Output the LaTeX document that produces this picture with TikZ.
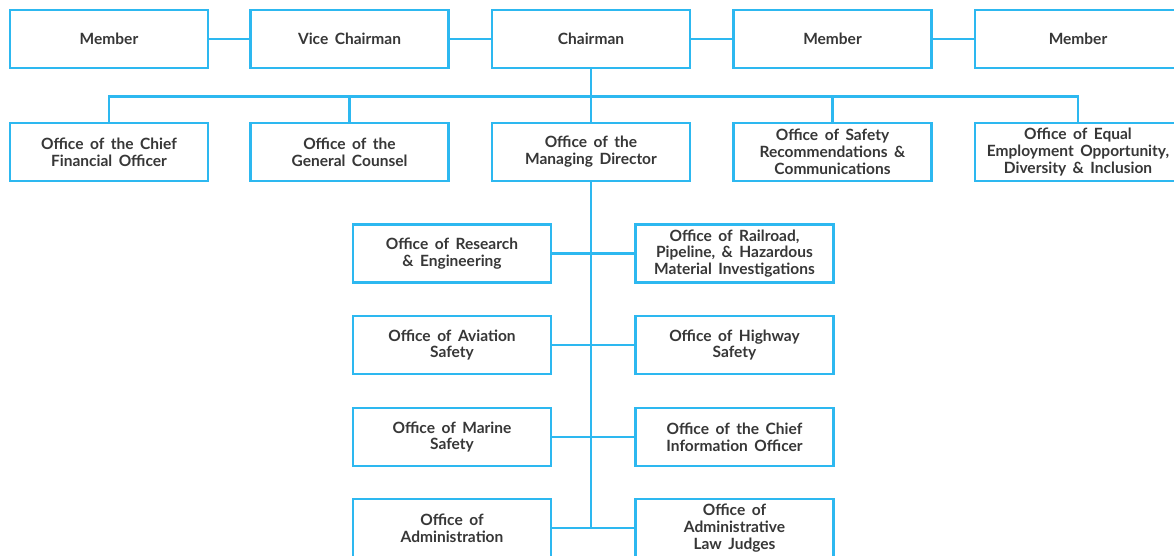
\documentclass[tikz,border=0pt]{standalone}
\usepackage{fontspec}
\setmainfont{Lato}
\definecolor{lineblue}{RGB}{45,184,240}
\definecolor{inkgray}{RGB}{55,55,55}
\newcommand\unitfont{\bfseries\fontsize{15.5}{16.8}\selectfont\spaceskip=0.42em plus 0.1em\relax}
\begin{document}
\begin{tikzpicture}[x=1pt,y=-1pt,
  unit/.style={draw=lineblue, line width=2.2pt, fill=white,
    minimum width=198pt, minimum height=58pt, inner sep=0pt,
    align=center, text=inkgray, font=\unitfont},
  wide/.style={minimum width=206pt},
  link/.style={draw=lineblue, line width=2.2pt}]
\useasboundingbox (0,0) rectangle (1174,556);
\clip (0,0) rectangle (1174,556);

% board
\node[unit] (m1) at (109,39) {Member};
\node[unit] (vc) at (349.5,39) {Vice Chairman};
\node[unit] (ch) at (591,39) {Chairman};
\node[unit] (m2) at (832.5,39) {Member};
\node[unit,wide] (m3) at (1078,39) {Member};

% offices reporting to the chairman
\node[unit] (cfo) at (109,152) {Office of the Chief\\Financial Officer};
\node[unit] (gc) at (349.5,152) {Office of the\\General Counsel};
\node[unit] (md) at (591,152) {Office of the\\Managing Director};
\node[unit] (sr) at (832.5,152) {Office of Safety\\Recommendations \&\\Communications};
\node[unit,wide] (eeo) at (1078,152) {Office of Equal\\Employment Opportunity,\\Diversity \& Inclusion};

% offices under the managing director
\node[unit] (re) at (452,253.5) {Office of Research\\\& Engineering};
\node[unit] (rr) at (734.5,253.5) {Office of Railroad,\\Pipeline, \& Hazardous\\Material Investigations};
\node[unit] (av) at (452,345) {Office of Aviation\\Safety};
\node[unit] (hw) at (734.5,345) {Office of Highway\\Safety};
\node[unit] (ma) at (452,437) {Office of Marine\\Safety};
\node[unit] (cio) at (734.5,437) {Office of the Chief\\Information Officer};
\node[unit] (ad) at (452,528) {Office of\\Administration};
\node[unit] (alj) at (734.5,528) {Office of\\Administrative\\Law Judges};

% board links
\draw[link] (m1.east) -- (vc.west);
\draw[link] (vc.east) -- (ch.west);
\draw[link] (ch.east) -- (m2.west);
\draw[link] (m2.east) -- (m3.west);

% chairman bus
\coordinate (bus) at (591,96.5);
\draw[link] (ch.south) -- (md.north);
\draw[link] (cfo.north) |- (bus) -| (eeo.north);
\draw[link] (gc.north) -- (gc.north |- bus);
\draw[link] (sr.north) -- (sr.north |- bus);

% managing director spine
\coordinate (spine) at (591,528);
\draw[link] (md.south) -- (spine);
\draw[link] (re.east) -- (rr.west);
\draw[link] (av.east) -- (hw.west);
\draw[link] (ma.east) -- (cio.west);
\draw[link] (ad.east) -- (alj.west);
\end{tikzpicture}
\end{document}
